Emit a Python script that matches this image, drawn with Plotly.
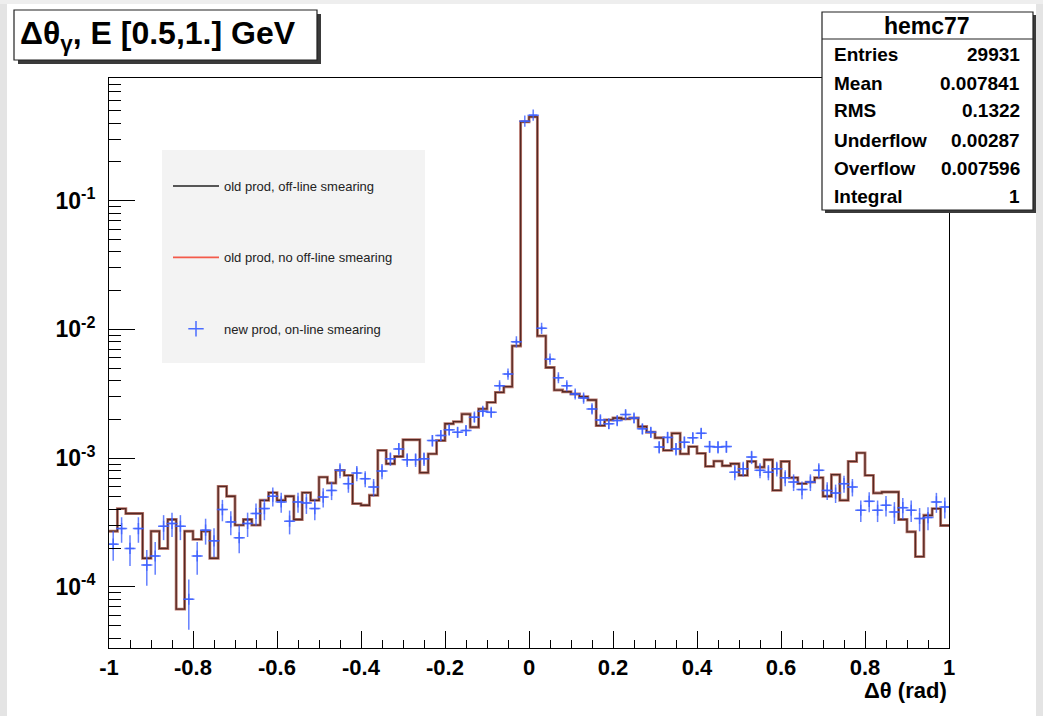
import numpy as np
import plotly.graph_objects as go

# Δθ_γ for photons with E in [0.5, 1] GeV: 100 bins on [-1, 1] rad, unit integral.
X_MIN, X_MAX, N_BINS = -1.0, 1.0, 100

# Old production; the off-line-smeared and unsmeared versions coincide at this binning.
old_prod = [
    2.71e-4, 4.06e-4, 3.72e-4, 3.72e-4, 1.67e-4, 2.71e-4, 1.99e-4, 3.34e-4, 6.73e-5, 2.71e-4,
    2.34e-4, 2.71e-4, 1.67e-4, 6.04e-4, 5.06e-4, 3.02e-4, 3.34e-4, 3.02e-4, 4.71e-4, 5.40e-4,
    4.71e-4, 5.06e-4, 3.34e-4, 5.40e-4, 4.71e-4, 7.13e-4, 6.41e-4, 8.04e-4, 7.35e-4, 4.44e-4,
    4.31e-4, 5.15e-4, 1.15e-3, 9.05e-4, 1.03e-3, 1.39e-3, 1.39e-3, 7.71e-4, 1.08e-3, 1.37e-3,
    1.85e-3, 1.92e-3, 2.20e-3, 1.74e-3, 2.41e-3, 2.71e-3, 3.24e-3, 3.59e-3, 7.44e-3, 0.409,
    0.447, 8.89e-3, 5.06e-3, 3.38e-3, 3.28e-3, 3.15e-3, 3.00e-3, 2.83e-3, 1.79e-3, 1.98e-3,
    2.05e-3, 2.02e-3, 2.05e-3, 1.76e-3, 1.59e-3, 1.44e-3, 1.15e-3, 1.56e-3, 1.08e-3, 1.23e-3,
    1.09e-3, 8.63e-4, 9.48e-4, 8.73e-4, 9.05e-4, 7.35e-4, 9.43e-4, 8.51e-4, 9.72e-4, 5.62e-4,
    9.43e-4, 7.05e-4, 6.34e-4, 6.52e-4, 7.05e-4, 5.06e-4, 7.44e-4, 4.71e-4, 9.43e-4, 1.10e-3,
    7.35e-4, 5.36e-4, 5.46e-4, 5.46e-4, 3.34e-4, 2.68e-4, 1.72e-4, 3.60e-4, 4.06e-4, 3.00e-4,
]

# New production, on-line smearing.
new_prod = [
    2.15e-4, 2.84e-4, 1.99e-4, 2.84e-4, 1.48e-4, 1.74e-4, 2.96e-4, 3.11e-4, 2.96e-4, 8.03e-5,
    1.74e-4, 2.76e-4, 2.28e-4, 3.99e-4, 3.20e-4, 2.41e-4, 3.11e-4, 3.72e-4, 4.06e-4, 5.06e-4,
    4.57e-4, 3.24e-4, 4.57e-4, 4.49e-4, 4.06e-4, 4.99e-4, 5.62e-4, 8.04e-4, 6.34e-4, 7.66e-4,
    6.93e-4, 5.97e-4, 7.94e-4, 9.89e-4, 1.18e-3, 9.72e-4, 9.72e-4, 9.89e-4, 1.37e-3, 1.50e-3,
    1.66e-3, 1.59e-3, 1.64e-3, 2.08e-3, 2.31e-3, 2.27e-3, 3.65e-3, 4.50e-3, 8.00e-3, 0.414,
    0.461, 1.02e-2, 5.87e-3, 4.21e-3, 3.65e-3, 3.15e-3, 2.93e-3, 2.41e-3, 1.98e-3, 1.85e-3,
    1.96e-3, 2.18e-3, 2.05e-3, 1.69e-3, 1.59e-3, 1.22e-3, 1.45e-3, 1.18e-3, 1.33e-3, 1.44e-3,
    1.56e-3, 1.23e-3, 1.22e-3, 1.23e-3, 7.79e-4, 8.28e-4, 1.02e-3, 8.04e-4, 7.79e-4, 8.28e-4,
    7.05e-4, 6.52e-4, 5.70e-4, 6.52e-4, 8.04e-4, 5.62e-4, 5.36e-4, 6.34e-4, 5.97e-4, 3.94e-4,
    4.62e-4, 3.94e-4, 4.31e-4, 3.82e-4, 4.13e-4, 3.94e-4, 3.40e-4, 3.46e-4, 4.57e-4, 4.18e-4,
]
# Effective statistics that set the Poisson errors of the normalised new-production bins.
NEW_PROD_EFF_ENTRIES = 7.0e4

x_tick_vals = [-1, -0.8, -0.6, -0.4, -0.2, 0, 0.2, 0.4, 0.6, 0.8, 1]
x_tick_text = ["-1", "-0.8", "-0.6", "-0.4", "-0.2", "0", "0.2", "0.4", "0.6", "0.8", "1"]
y_tick_vals = [1e-4, 1e-3, 1e-2, 1e-1]
y_tick_text = ["10<sup>-4</sup>", "10<sup>-3</sup>", "10<sup>-2</sup>", "10<sup>-1</sup>"]

title_text = "Δθ<sub>γ</sub>, E [0.5,1.] GeV"
x_title = "Δθ (rad)"
stats_title = "hemc77"
stats_names = ["Entries", "Mean", "RMS", "Underflow", "Overflow", "Integral"]
stats_values = ["29931", "0.007841", "0.1322", "0.00287", "0.007596", "1"]
legend_names = ["old prod, off-line smearing", "old prod, no off-line smearing",
                "new prod, on-line smearing"]

# ---- page geometry (pixels) ----
W, H = 1043, 716
FL, FR, FT, FB = 109, 949, 78, 648          # frame edges
FONT = "Liberation Sans, Arial, Helvetica, sans-serif"


def px_x(px):
    return (px - FL) / (FR - FL)


def px_y(py):
    return (FB - py) / (FB - FT)


edges = np.linspace(X_MIN, X_MAX, N_BINS + 1)
centers = 0.5 * (edges[:-1] + edges[1:])
half_w = 0.5 * (X_MAX - X_MIN) / N_BINS
old_arr = np.asarray(old_prod)
new_arr = np.asarray(new_prod)
step_y = np.append(old_arr, old_arr[-1])
new_err = new_arr / np.sqrt(new_arr * NEW_PROD_EFF_ENTRIES)

BLUE = "rgba(60,95,255,0.8)"

fig = go.Figure()

# old prod, no off-line smearing (red) under old prod, off-line smearing (black)
fig.add_trace(go.Scatter(x=edges, y=step_y, mode="lines", line_shape="hv",
                         line=dict(color="rgb(185,120,110)", width=2.9),
                         showlegend=False, hoverinfo="skip"))
fig.add_trace(go.Scatter(x=edges, y=step_y, mode="lines", line_shape="hv",
                         line=dict(color="rgb(85,40,35)", width=1.3),
                         showlegend=False, hoverinfo="skip"))
# new prod, on-line smearing
fig.add_trace(go.Scatter(
    x=centers, y=new_arr, mode="markers",
    marker=dict(symbol="cross-thin", size=8, color=BLUE, line=dict(width=1.5, color=BLUE)),
    error_x=dict(type="constant", value=half_w, width=0, thickness=1.5, color=BLUE),
    error_y=dict(type="data", array=new_err, width=0, thickness=1.5, color=BLUE),
    showlegend=False))

# legend entries
legend_styles = [
    dict(mode="lines", line=dict(color="#222222", width=1.4)),
    dict(mode="lines", line=dict(color="#f45a4a", width=1.7)),
    dict(mode="markers", marker=dict(symbol="cross-thin", size=11,
                                     line=dict(width=1.5, color="#4a6cff"))),
]
for i, (name, st) in enumerate(zip(legend_names, legend_styles)):
    fig.add_trace(go.Scatter(x=[None], y=[None], name=name, legendgroup=f"g{i}",
                             showlegend=True, **st))

shapes = []
# screen border bands
shapes.append(dict(type="rect", xref="paper", yref="paper", x0=px_x(0), x1=px_x(7),
                   y0=px_y(H), y1=px_y(0), fillcolor="#e4e4e4", line_width=0, layer="below"))
shapes.append(dict(type="rect", xref="paper", yref="paper", x0=px_x(1036), x1=px_x(W),
                   y0=px_y(H), y1=px_y(0), fillcolor="#e4e4e4", line_width=0, layer="below"))
shapes.append(dict(type="rect", xref="paper", yref="paper", x0=px_x(0), x1=px_x(W),
                   y0=px_y(4), y1=px_y(0), fillcolor="#eeeeee", line_width=0, layer="below"))
# legend panel
shapes.append(dict(type="rect", xref="paper", yref="paper", x0=px_x(162), x1=px_x(425),
                   y0=px_y(363), y1=px_y(150), fillcolor="#f3f3f3", line_width=0, layer="below"))
# title pave with shadow
shapes.append(dict(type="rect", xref="paper", yref="paper", x0=px_x(18), x1=px_x(321),
                   y0=px_y(64), y1=px_y(14), fillcolor="#3a3a3a", line_width=0))
shapes.append(dict(type="rect", xref="paper", yref="paper", x0=px_x(14), x1=px_x(317),
                   y0=px_y(60), y1=px_y(10), fillcolor="white",
                   line=dict(color="#222222", width=1.2)))
# stats pave with shadow
shapes.append(dict(type="rect", xref="paper", yref="paper", x0=px_x(825), x1=px_x(1036),
                   y0=px_y(213), y1=px_y(15), fillcolor="#3a3a3a", line_width=0))
shapes.append(dict(type="rect", xref="paper", yref="paper", x0=px_x(822), x1=px_x(1033),
                   y0=px_y(210), y1=px_y(12), fillcolor="white",
                   line=dict(color="#222222", width=1.2)))
shapes.append(dict(type="line", xref="paper", yref="paper", x0=px_x(822), x1=px_x(1033),
                   y0=px_y(39), y1=px_y(39), line=dict(color="#222222", width=1.2)))

annotations = [
    dict(text=title_text, xref="paper", yref="paper", x=px_x(18), y=px_y(36),
         xanchor="left", yanchor="middle", showarrow=False,
         font=dict(family=FONT, size=32, color="black", weight="bold")),
    dict(text=x_title, xref="paper", yref="paper", x=px_x(949), y=px_y(690),
         xanchor="right", yanchor="middle", showarrow=False,
         font=dict(family=FONT, size=22, color="black", weight="bold")),
    dict(text=stats_title, xref="paper", yref="paper", x=px_x(927), y=px_y(26),
         xanchor="center", yanchor="middle", showarrow=False,
         font=dict(family=FONT, size=23, color="black", weight="bold")),
]
row_y = [54, 83, 111, 140, 168, 196]
for name, val, ry in zip(stats_names, stats_values, row_y):
    annotations.append(dict(text=name, xref="paper", yref="paper", x=px_x(832), y=px_y(ry),
                            xanchor="left", yanchor="middle", showarrow=False,
                            font=dict(family=FONT, size=19, color="black", weight="bold")))
    annotations.append(dict(text=val, xref="paper", yref="paper", x=px_x(1022), y=px_y(ry),
                            xanchor="right", yanchor="middle", showarrow=False,
                            font=dict(family=FONT, size=19, color="black", weight="bold")))

minor_y = [k * 10.0 ** e for e in range(-5, 0) for k in range(2, 10)]

fig.update_layout(
    width=W, height=H, autosize=False,
    margin=dict(l=FL, r=W - FR, t=FT, b=H - FB, pad=0, autoexpand=False),
    paper_bgcolor="white", plot_bgcolor="white",
    font=dict(family=FONT, color="black"),
    shapes=shapes, annotations=annotations,
    legend=dict(x=px_x(168), y=px_y(171), xanchor="left", yanchor="top",
                bgcolor="rgba(0,0,0,0)", borderwidth=0, tracegroupgap=51.5,
                itemwidth=46, font=dict(family=FONT, size=13, color="#222222")),
    xaxis=dict(range=[X_MIN, X_MAX], showgrid=False, zeroline=False,
               showline=True, mirror=True, linecolor="black", linewidth=1,
               tickmode="array", tickvals=x_tick_vals, ticktext=x_tick_text,
               ticks="inside", ticklen=17, tickwidth=1, tickcolor="black",
               minor=dict(dtick=0.05, ticks="inside", ticklen=8, tickwidth=1,
                          tickcolor="black", showgrid=False),
               tickfont=dict(family=FONT, size=22, color="black", weight="bold")),
    yaxis=dict(type="log", range=[-4.474, -0.048], showgrid=False, zeroline=False,
               showline=True, mirror=True, linecolor="black", linewidth=1,
               tickmode="array", tickvals=y_tick_vals, ticktext=y_tick_text,
               ticks="inside", ticklen=26, tickwidth=1, tickcolor="black",
               ticklabelstandoff=8,
               minor=dict(tickmode="array", tickvals=minor_y, ticks="inside",
                          ticklen=12, tickwidth=1, tickcolor="black", showgrid=False),
               tickfont=dict(family=FONT, size=23, color="black", weight="bold")),
)

fig.write_html("out.html")
